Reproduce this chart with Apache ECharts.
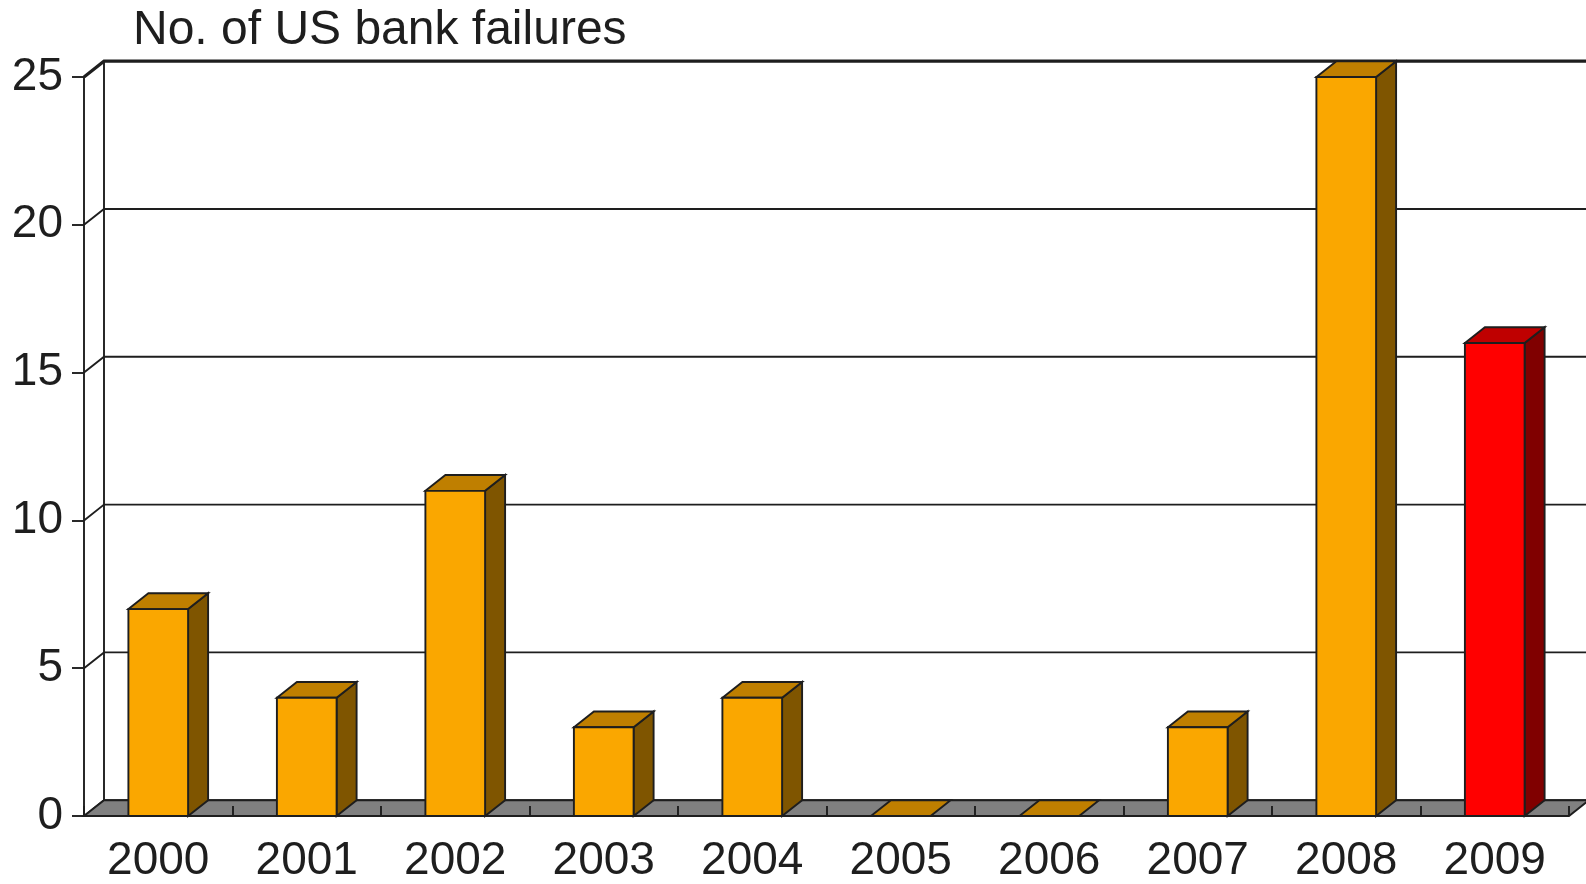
<!DOCTYPE html>
<html><head><meta charset="utf-8">
<script src="https://cdn.jsdelivr.net/npm/echarts@6/dist/echarts.min.js"></script>
<style>html,body{margin:0;padding:0;background:#fff}#c{width:1586px;height:884px}</style>
</head><body><div id="c"></div>
<script>
// ---- data ----
const years = ['2000','2001','2002','2003','2004','2005','2006','2007','2008','2009'];
const failures = [7, 4, 11, 3, 4, 0, 0, 3, 25, 16];
const highlightYear = '2009';
const yTicks = [0, 5, 10, 15, 20, 25];
const titleText = 'No. of US bank failures';

// ---- styles ----
const DX = 20, DY = 15.8;
const INK = '#1e1e1e';
const FONT = 'Liberation Sans, Arial, Helvetica, sans-serif';
const ORANGE = {front:'#FAA700', top:'#BF7F00', side:'#7F5500'};
const RED = {front:'#FF0000', top:'#BF0000', side:'#800000'};
const LW = 1.9;

const chart = echarts.init(document.getElementById('c'), null, {renderer:'canvas'});

function renderGrid(params, api){
  const p = api.coord([0, api.value(1)]);
  const bw = api.size([1,0])[0];
  const left = p[0] - bw/2, y = p[1];
  const isTop = api.value(1) === yTicks[yTicks.length-1];
  return {type:'polyline', shape:{points:[[left,y],[left+DX,y-DY],[api.getWidth()+5,y-DY]]},
    style:{stroke:INK, lineWidth:isTop?3.2:LW, fill:null}};
}

function renderFloor(params, api){
  const bw = api.size([1,0])[0];
  const p0 = api.coord([0, 0]);
  const pn = api.coord([years.length-1, 0]);
  const pt = api.coord([0, yTicks[yTicks.length-1]]);
  const left = p0[0] - bw/2, right = pn[0] + bw/2, y = p0[1];
  return {type:'group', children:[
    {type:'line', shape:{x1:left+DX, y1:y-DY, x2:left+DX, y2:pt[1]-DY}, style:{stroke:INK, lineWidth:LW}},
    {type:'polygon', shape:{points:[[left,y],[right,y],[right+DX,y-DY],[left+DX,y-DY]]},
      style:{fill:'#808080', stroke:INK, lineWidth:LW, lineJoin:'miter'}}
  ]};
}

function renderBar(params, api){
  const i = api.value(0), v = api.value(1);
  const top = api.coord([i, v]), base = api.coord([i, 0]);
  const bw = api.size([1,0])[0];
  const w = bw * 0.402;
  const x1 = top[0] - w/2, x2 = x1 + w;
  const yt = top[1], yb = base[1];
  const pal = years[i] === highlightYear ? RED : ORANGE;
  const st = (fill) => ({fill, stroke:INK, lineWidth:LW, lineJoin:'miter'});
  const kids = [];
  if (v > 0) kids.push({type:'polygon', shape:{points:[[x2,yt],[x2+DX,yt-DY],[x2+DX,yb-DY],[x2,yb]]}, style:st(pal.side)});
  kids.push({type:'polygon', shape:{points:[[x1,yt],[x2,yt],[x2+DX,yt-DY],[x1+DX,yt-DY]]}, style:st(pal.top)});
  if (v > 0) kids.push({type:'rect', shape:{x:x1, y:yt, width:w, height:yb-yt}, style:st(pal.front)});
  return {type:'group', children:kids};
}

chart.setOption({
  animation:false,
  backgroundColor:'#fff',
  title:{text:titleText, left:128, top:2,
    textStyle:{fontFamily:FONT, fontSize:48, fontWeight:'normal', color:INK}},
  grid:{left:84, right:17, top:77, bottom:65, containLabel:false},
  xAxis:{type:'category', data:years, boundaryGap:true, z:5,
    axisLine:{show:false},
    axisTick:{show:true, inside:true, length:10, lineStyle:{color:INK, width:LW}},
    axisLabel:{fontFamily:FONT, fontSize:46, color:INK, margin:22},
    splitLine:{show:false}},
  yAxis:{type:'value', min:0, max:25, interval:5, z:5,
    axisLine:{show:true, lineStyle:{color:INK, width:LW}},
    axisTick:{show:true, length:12, lineStyle:{color:INK, width:LW}},
    axisLabel:{fontFamily:FONT, fontSize:46, color:INK, margin:21},
    splitLine:{show:false}},
  series:[
    {type:'custom', name:'grid', renderItem:renderGrid, z:1, silent:true,
      data:yTicks.map(v => [0, v]), encode:{x:0, y:1}},
    {type:'custom', name:'floor', renderItem:renderFloor, z:2, silent:true,
      data:[[0, 0]], encode:{x:0, y:1}},
    {type:'custom', name:'failures', renderItem:renderBar, z:3,
      data:years.map((y, i) => [i, failures[i]]), encode:{x:0, y:1}}
  ]
});
</script>
</body></html>
